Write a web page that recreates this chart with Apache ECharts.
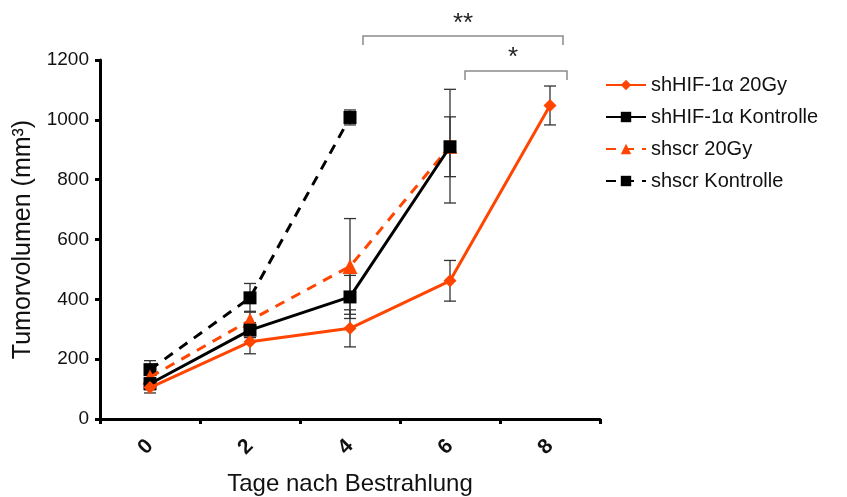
<!DOCTYPE html>
<html>
<head>
    <meta charset="UTF-8">
    <title>Tumorvolumen</title>
    <script src="https://cdn.jsdelivr.net/npm/echarts@6/dist/echarts.min.js"></script>
    <style>
        html, body { margin: 0; padding: 0; background: #fff; }
        #chart { width: 847px; height: 497px; }
    </style>
</head>
<body>
<div id="chart"></div>
<script type="text/javascript">
    // Daten
    var days = ['0', '2', '4', '6', '8'];
    var yTicks = [0, 200, 400, 600, 800, 1000, 1200];

    var hif20 = [105, 258, 303, 462, 1048];
    var hif20Err = [18, 40, 62, 68, 65];
    var hifCtrl = [118, 297, 408, 910, null];
    var hifCtrlErr = [20, 25, 72, 100, null];
    var scr20 = [140, 330, 510, 912, null];
    var scr20Err = [25, 30, 160, 190, null];
    var scrCtrl = [165, 405, 1008, null, null];
    var scrCtrlErr = [30, 48, 25, null, null];

    var orange = '#ff4500';
    var black = '#000000';

    function errData(mean, err) {
        var out = [];
        for (var i = 0; i < mean.length; i++) {
            if (mean[i] != null) out.push([i, mean[i] - err[i], mean[i] + err[i]]);
        }
        return out;
    }

    // Fehlerbalken mit Querstrichen
    function renderErr(params, api) {
        var lo = api.coord([api.value(0), api.value(1)]);
        var hi = api.coord([api.value(0), api.value(2)]);
        var w = 6;
        var st = { stroke: '#333', lineWidth: 1.3 };
        return {
            type: 'group',
            children: [
                { type: 'line', shape: { x1: lo[0], y1: lo[1], x2: hi[0], y2: hi[1] }, style: st },
                { type: 'line', shape: { x1: lo[0] - w, y1: lo[1], x2: lo[0] + w, y2: lo[1] }, style: st },
                { type: 'line', shape: { x1: hi[0] - w, y1: hi[1], x2: hi[0] + w, y2: hi[1] }, style: st }
            ]
        };
    }

    function errSeries(mean, err) {
        return {
            type: 'custom',
            renderItem: renderErr,
            encode: { x: 0, y: [1, 2] },
            data: errData(mean, err),
            z: 1,
            silent: true
        };
    }

    var myChart = echarts.init(document.getElementById('chart'));

    var option = {
        animation: false,
        textStyle: { fontFamily: 'Liberation Sans, Arial, sans-serif' },
        grid: { left: 100, right: 247, top: 60, bottom: 78, outerBoundsMode: 'none' },
        legend: {
            orient: 'vertical',
            left: 600,
            top: 70,
            itemWidth: 40,
            itemHeight: 13,
            itemGap: 12,
            textStyle: { fontSize: 20, color: '#111' },
            data: ['shHIF-1α 20Gy', 'shHIF-1α Kontrolle', 'shscr 20Gy', 'shscr Kontrolle']
        },
        xAxis: {
            type: 'category',
            data: days,
            boundaryGap: true,
            name: 'Tage nach Bestrahlung',
            nameLocation: 'middle',
            nameGap: 53,
            nameTextStyle: { fontSize: 24, color: '#111' },
            axisLine: { lineStyle: { color: '#000', width: 3 } },
            axisTick: { show: true, length: 5, lineStyle: { color: '#000', width: 3 } },
            axisLabel: { rotate: 45, fontSize: 21, fontWeight: 'bold', color: '#111', margin: 24 }
        },
        yAxis: {
            type: 'value',
            min: yTicks[0],
            max: yTicks[yTicks.length - 1],
            interval: 200,
            name: 'Tumorvolumen (mm³)',
            nameLocation: 'middle',
            nameGap: 52,
            nameRotate: 90,
            nameTextStyle: { fontSize: 25, color: '#111' },
            splitLine: { show: false },
            axisLine: { show: true, lineStyle: { color: '#000', width: 3 } },
            axisTick: { show: true, length: 5, lineStyle: { color: '#000', width: 3 } },
            axisLabel: { fontSize: 19, color: '#111', margin: 11, formatter: function (v) { return String(v); } }
        },
        series: [
            errSeries(scrCtrl, scrCtrlErr),
            errSeries(scr20, scr20Err),
            errSeries(hifCtrl, hifCtrlErr),
            errSeries(hif20, hif20Err),
            {
                name: 'shscr Kontrolle',
                type: 'line',
                data: scrCtrl,
                symbol: 'rect',
                symbolSize: 13,
                itemStyle: { color: black },
                lineStyle: { color: black, width: 3, type: [10, 8] },
                z: 2
            },
            {
                name: 'shscr 20Gy',
                type: 'line',
                data: scr20,
                symbol: 'triangle',
                symbolSize: 15,
                itemStyle: { color: orange },
                lineStyle: { color: orange, width: 3, type: [10, 8] },
                z: 3
            },
            {
                name: 'shHIF-1α Kontrolle',
                type: 'line',
                data: hifCtrl,
                symbol: 'rect',
                symbolSize: 13,
                itemStyle: { color: black },
                lineStyle: { color: black, width: 3 },
                z: 4
            },
            {
                name: 'shHIF-1α 20Gy',
                type: 'line',
                data: hif20,
                symbol: 'diamond',
                symbolSize: 13,
                itemStyle: { color: orange },
                lineStyle: { color: orange, width: 3 },
                z: 5
            }
        ],
        // Signifikanzklammern
        graphic: [
            {
                type: 'polyline',
                shape: { points: [[363, 45], [363, 36], [563, 36], [563, 45]] },
                style: { stroke: '#8a8a8a', lineWidth: 1.5, fill: null }
            },
            {
                type: 'text', x: 463, y: 24,
                style: { text: '**', fill: '#222', font: '26px Liberation Sans', align: 'center', verticalAlign: 'middle' }
            },
            {
                type: 'polyline',
                shape: { points: [[465, 80], [465, 71], [567, 71], [567, 80]] },
                style: { stroke: '#8a8a8a', lineWidth: 1.5, fill: null }
            },
            {
                type: 'text', x: 513, y: 58,
                style: { text: '*', fill: '#222', font: '26px Liberation Sans', align: 'center', verticalAlign: 'middle' }
            }
        ]
    };
    myChart.setOption(option);
</script>
</body>
</html>
